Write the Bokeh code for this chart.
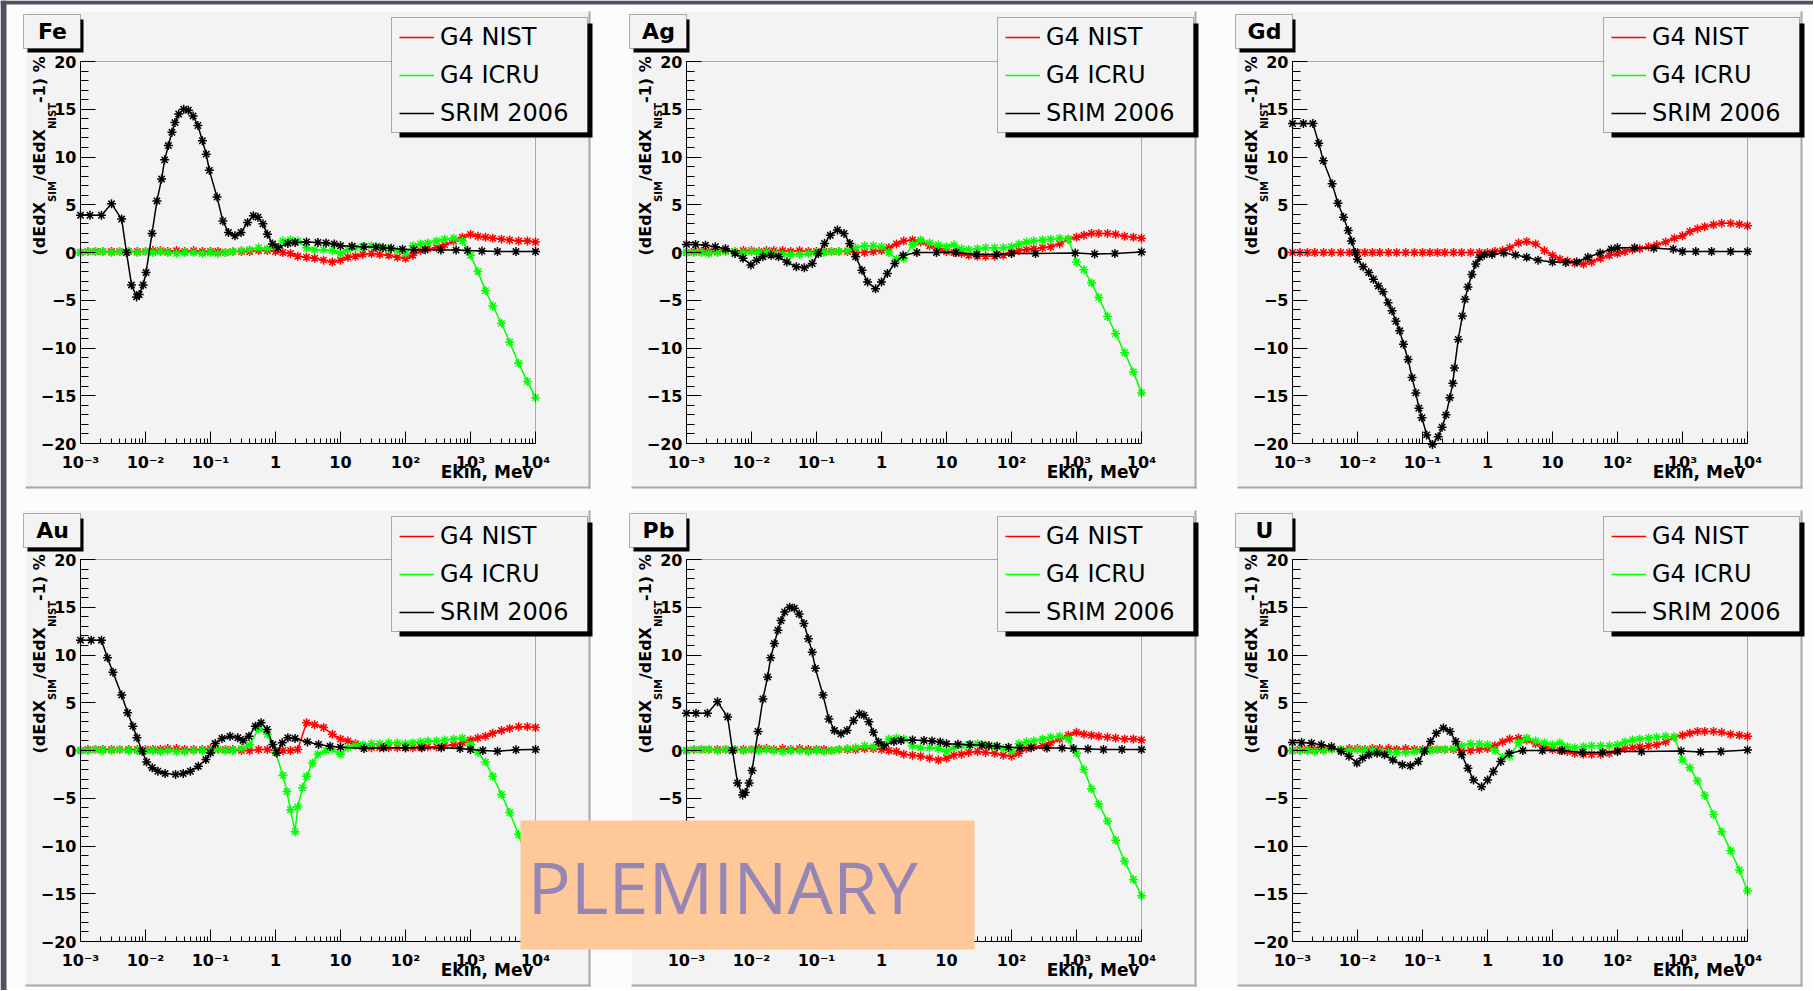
import math
from bokeh.plotting import figure
from bokeh.models import (Range1d, FixedTicker, BoxAnnotation, Label, Legend,
                          LegendItem, ColumnDataSource, LogAxis, LinearAxis, LogScale)
from bokeh.embed import file_html
from bokeh.resources import INLINE

# ---------------------------------------------------------------- data
# common energy grid (MeV) used by the G4 NIST / G4 ICRU series
E = [0.001, 0.0013, 0.0017, 0.0022, 0.003, 0.004, 0.0055, 0.0075,
     0.01, 0.013, 0.017, 0.022, 0.03, 0.04, 0.055, 0.075,
     0.1, 0.13, 0.17, 0.22, 0.3, 0.4, 0.55, 0.75,
     1.0, 1.3, 1.7, 2.2, 3.0, 4.0, 5.5, 7.5,
     10.0, 13.0, 17.0, 22.0, 30.0, 40.0, 55.0, 75.0,
     100.0, 130.0, 170.0, 220.0, 300.0, 400.0, 550.0, 750.0,
     1000.0, 1300.0, 1700.0, 2200.0, 3000.0, 4000.0, 5500.0, 7500.0,
     10000.0]

# ---- Fe
FE_RED = [0.0, 0.1, 0.1, 0.1, 0.1, 0.1, 0.1, 0.1,
          0.1, 0.2, 0.2, 0.1, 0.2, 0.1, 0.2, 0.1,
          0.1, 0.1, 0.0, 0.1, 0.1, 0.1, 0.2, 0.2,
          0.1, 0.0, -0.1, -0.4, -0.5, -0.6, -0.8, -1.0,
          -0.8, -0.5, -0.4, -0.2, -0.1, -0.2, -0.3, -0.5,
          -0.6, -0.3, 0.2, 0.4, 0.5, 0.8, 1.2, 1.6,
          1.9, 1.7, 1.6, 1.5, 1.4, 1.3, 1.2, 1.2,
          1.1]
FE_GREEN = [0.0, 0.1, 0.1, 0.1, 0.0, 0.1, 0.1, 0.0,
            0.1, 0.0, 0.1, 0.0, -0.1, 0.0, 0.0, -0.1,
            0.0, -0.1, 0.0, 0.1, 0.2, 0.3, 0.5, 0.4,
            0.6, 1.2, 1.3, 1.2, 0.5, 0.3, 0.3, 0.2,
            -0.1, 0.3, 0.5, 0.6, 0.7, 0.6, 0.4, 0.2,
            -0.1, 0.7, 0.9, 1.0, 1.2, 1.4, 1.5, 1.2,
            -0.3, -2.0, -4.0, -5.6, -7.4, -9.4, -11.6, -13.5,
            -15.2]
FE_BLACK_X = [0.001, 0.0014, 0.0021, 0.003, 0.0043, 0.0051, 0.0061, 0.0073, 0.008, 0.0092,
              0.0102, 0.0126, 0.015, 0.0177, 0.0197, 0.0225, 0.0255, 0.0284, 0.0324, 0.0387,
              0.0456, 0.054, 0.064, 0.075, 0.086, 0.096, 0.126, 0.155, 0.189, 0.238,
              0.295, 0.372, 0.456, 0.537, 0.64, 0.75, 0.9, 1.1,
              1.55, 2.0, 3.0, 4.5, 6.0, 8.0, 10.0, 15.0, 23.0, 35.0, 45.0,
              60.0, 90.0, 134.0, 200.0, 350.0, 600.0, 900.0, 1500.0, 2600.0, 5000.0, 10000.0]
FE_BLACK_Y = [3.9, 3.9, 3.9, 5.1, 3.5, 0.0, -3.4, -4.65, -4.4, -3.4,
              -2.1, 2.0, 5.4, 7.7, 9.7, 11.2, 12.6, 13.6, 14.5, 15.0,
              14.9, 14.3, 13.3, 11.7, 10.3, 8.6, 5.8, 3.3, 2.1, 1.75,
              2.1, 3.15, 3.85, 3.7, 3.0, 1.9, 0.9, 0.5,
              0.95, 1.05, 1.1, 1.05, 1.0, 0.9, 0.7, 0.65, 0.6, 0.55, 0.5,
              0.45, 0.35, 0.3, 0.3, 0.25, 0.25, 0.2, 0.15, 0.1, 0.1, 0.1]

# ---- Ag
AG_RED = [0.0, 0.1, 0.1, 0.1, 0.1, 0.2, 0.1, 0.2,
          0.2, 0.1, 0.2, 0.2, 0.2, 0.1, 0.2, 0.1,
          0.1, 0.1, 0.1, 0.1, 0.1, 0.0, 0.0, 0.1,
          0.2, 0.5, 0.9, 1.2, 1.3, 1.1, 0.7, 0.4,
          0.1, 0.0, -0.1, -0.3, -0.4, -0.4, -0.4, -0.3,
          0.0, 0.2, 0.3, 0.4, 0.5, 0.6, 0.9, 1.4,
          1.6, 1.8, 2.0, 2.0, 2.0, 1.9, 1.7, 1.6,
          1.5]
AG_GREEN = [0.0, 0.0, 0.0, -0.1, 0.0, 0.1, 0.1, 0.0,
            0.1, 0.0, 0.0, -0.1, -0.2, -0.2, -0.2, -0.1,
            0.0, 0.0, 0.1, 0.1, 0.2, 0.5, 0.7, 0.7,
            0.6, 0.0, -0.7, -0.6, 0.8, 1.3, 1.0, 0.8,
            0.6, 0.8, 0.4, 0.3, 0.4, 0.5, 0.5, 0.5,
            0.6, 0.9, 1.1, 1.2, 1.3, 1.4, 1.5, 1.4,
            -1.0, -1.8, -3.2, -4.7, -6.7, -8.5, -10.5, -12.5,
            -14.7]
AG_BLACK_X = [0.001, 0.00138, 0.00196, 0.00278, 0.00398, 0.0056, 0.0074, 0.0098, 0.012, 0.015,
              0.02, 0.026, 0.035, 0.049, 0.065, 0.086, 0.107, 0.133, 0.163, 0.21,
              0.265, 0.325, 0.4, 0.5, 0.61, 0.81, 1.0, 1.23, 1.6, 2.15,
              3.5, 7.0, 14.0, 29.0, 59.0, 100.0, 234.0, 955.0, 1900.0, 3900.0, 10000.0]
AG_BLACK_Y = [0.85, 0.84, 0.77, 0.6, 0.4, -0.1, -0.6, -1.3, -0.8, -0.45,
              -0.3, -0.45, -1.0, -1.5, -1.6, -1.15, -0.1, 0.95, 1.8, 2.35,
              2.0, 0.95, -0.45, -1.85, -3.1, -3.8, -3.1, -2.2, -1.15, -0.3,
              0.0, 0.0, 0.0, -0.2, -0.2, -0.1, -0.1, -0.05, -0.15, -0.1, 0.05]

# ---- Gd (no G4 ICRU points are drawn; one empty placeholder keeps its legend line)
GD_RED = [0.0, 0.0, 0.0, 0.0, 0.0, 0.0, 0.0, 0.0,
          0.0, 0.0, 0.0, 0.0, 0.0, 0.0, 0.0, 0.0,
          0.0, 0.0, 0.0, 0.0, 0.0, 0.0, 0.0, 0.0,
          0.0, 0.1, 0.2, 0.5, 1.0, 1.15, 0.9, 0.2,
          -0.3, -0.7, -0.9, -1.1, -1.2, -1.0, -0.6, -0.3,
          -0.1, 0.1, 0.3, 0.4, 0.6, 0.8, 1.1, 1.5,
          1.75, 2.2, 2.5, 2.7, 2.9, 3.05, 3.05, 2.95,
          2.8]
GD_GREEN_X = [float("nan")]
GD_GREEN_Y = [float("nan")]
GD_BLACK_X = [0.001, 0.00147, 0.00206, 0.00253, 0.00298, 0.00407, 0.005, 0.0061, 0.0072, 0.0081,
              0.00925, 0.01, 0.0122, 0.0149, 0.0176, 0.021, 0.0246, 0.0295, 0.034, 0.039,
              0.0446, 0.051, 0.06, 0.069, 0.079, 0.088, 0.098, 0.116, 0.142, 0.174,
              0.2, 0.23, 0.263, 0.293, 0.31, 0.355, 0.41, 0.452, 0.5, 0.575,
              0.66, 0.76, 0.89, 1.18, 1.78, 2.7, 4.0, 6.0, 10.0, 16.0,
              23.6, 35.0, 54.0, 80.0, 100.0, 183.0, 362.0, 720.0, 1000.0, 1600.0,
              2800.0, 5500.0, 10000.0]
GD_BLACK_Y = [13.5, 13.5, 13.5, 11.45, 9.6, 7.2, 5.15, 3.7, 2.3, 1.2,
              0.0, -0.7, -1.5, -2.1, -2.8, -3.5, -4.1, -5.25, -6.1, -7.2,
              -8.2, -9.6, -11.2, -13.1, -14.7, -16.3, -17.3, -19.1, -20.1, -19.3,
              -18.3, -17.0, -15.2, -13.7, -12.1, -9.1, -6.65, -4.9, -3.6, -2.3,
              -1.2, -0.5, -0.25, -0.2, -0.05, -0.25, -0.5, -0.8, -1.0, -1.05,
              -1.0, -0.5, -0.05, 0.35, 0.5, 0.5, 0.45, 0.35, 0.1, 0.1,
              0.1, 0.1, 0.1]

# ---- Au
AU_RED = [0.0, 0.1, 0.1, 0.1, 0.1, 0.1, 0.1, 0.1,
          0.1, 0.1, 0.1, 0.2, 0.2, 0.1, 0.1, 0.1,
          0.2, 0.1, 0.1, 0.1, 0.0, 0.0, 0.1, 0.1,
          0.0, 0.0, 0.0, 0.1, 2.9, 2.7, 2.4, 1.7,
          1.2, 1.0, 0.7, 0.4, 0.3, 0.3, 0.3, 0.3,
          0.3, 0.3, 0.4, 0.4, 0.4, 0.5, 0.6, 0.8,
          1.1, 1.3, 1.5, 1.8, 2.1, 2.3, 2.5, 2.5,
          2.4]
AU_GREEN_X = [0.001, 0.0013, 0.0017, 0.0022, 0.003, 0.004, 0.0055, 0.0075,
              0.01, 0.013, 0.017, 0.022, 0.03, 0.04, 0.055, 0.075,
              0.1, 0.13, 0.17, 0.22, 0.3, 0.4, 0.55, 0.75,
              1.0, 1.3, 1.5, 1.7, 2.0, 2.2, 2.6, 3.0, 3.7, 4.5, 6.0, 7.5,
              10.0, 13.0, 17.0, 22.0, 30.0, 40.0, 55.0, 75.0,
              100.0, 130.0, 170.0, 220.0, 300.0, 400.0, 550.0, 750.0,
              1000.0, 1300.0, 1700.0, 2200.0, 3000.0, 4000.0, 5500.0, 7500.0, 10000.0]
AU_GREEN_Y = [0.0, 0.0, 0.1, 0.0, 0.0, 0.1, 0.0, 0.0,
              0.0, 0.0, -0.1, 0.0, -0.1, -0.1, 0.0, 0.0,
              0.0, 0.1, 0.0, 0.0, 0.2, 0.6, 2.3, 1.7,
              -0.2, -2.6, -4.3, -6.2, -8.5, -5.9, -3.9, -2.7, -1.3, -0.4, 0.0, 0.1,
              -0.4, 0.3, 0.5, 0.6, 0.7, 0.7, 0.8, 0.8,
              0.7, 0.8, 0.9, 1.0, 1.0, 1.1, 1.2, 1.3,
              0.6, -0.2, -1.2, -2.7, -4.6, -6.5, -8.8, -11.5, -14.5]
AU_BLACK_X = [0.001, 0.00146, 0.0021, 0.0026, 0.00316, 0.0043, 0.0053, 0.0064, 0.0074, 0.0089,
              0.0104, 0.0127, 0.0155, 0.02, 0.029, 0.038, 0.049, 0.065, 0.085, 0.1,
              0.118, 0.15, 0.2, 0.263, 0.316, 0.39, 0.49, 0.6, 0.74, 0.91,
              1.05, 1.27, 1.55, 2.0, 3.1, 4.6, 6.9, 10.0, 23.0, 46.0,
              100.0, 178.0, 355.0, 690.0, 1000.0, 1550.0, 2600.0, 5000.0, 10000.0]
AU_BLACK_Y = [11.55, 11.55, 11.55, 9.7, 8.2, 5.8, 3.95, 2.55, 1.33, -0.07,
              -1.2, -1.8, -2.17, -2.4, -2.5, -2.4, -2.17, -1.65, -0.95, -0.25,
              0.73, 1.26, 1.5, 1.33, 1.05, 1.5, 2.55, 2.9, 2.2, 0.63,
              -0.25, 0.8, 1.33, 1.26, 0.9, 0.63, 0.45, 0.35, 0.2, 0.28,
              0.28, 0.28, 0.28, 0.2, 0.1, 0.0, -0.07, 0.07, 0.1]

# ---- Pb and U read identical to Fe and Ag in the picture
PB_RED, PB_GREEN, PB_BLACK_X, PB_BLACK_Y = FE_RED, FE_GREEN, FE_BLACK_X, FE_BLACK_Y
U_RED, U_GREEN, U_BLACK_X, U_BLACK_Y = AG_RED, AG_GREEN, AG_BLACK_X, AG_BLACK_Y

ELEMENTS = ["Fe", "Ag", "Gd", "Au", "Pb", "U"]
SERIES_NAMES = ["G4 NIST", "G4 ICRU", "SRIM 2006"]
SERIES_COLORS = ["#ff0000", "#00ff00", "#000000"]
PANEL_DATA = [
    [(E, FE_RED), (E, FE_GREEN), (FE_BLACK_X, FE_BLACK_Y)],
    [(E, AG_RED), (E, AG_GREEN), (AG_BLACK_X, AG_BLACK_Y)],
    [(E, GD_RED), (GD_GREEN_X, GD_GREEN_Y), (GD_BLACK_X, GD_BLACK_Y)],
    [(E, AU_RED), (AU_GREEN_X, AU_GREEN_Y), (AU_BLACK_X, AU_BLACK_Y)],
    [(E, PB_RED), (E, PB_GREEN), (PB_BLACK_X, PB_BLACK_Y)],
    [(E, U_RED), (E, U_GREEN), (U_BLACK_X, U_BLACK_Y)],
]

X_MAJOR = [0.001, 0.01, 0.1, 1.0, 10.0, 100.0, 1000.0, 10000.0]
X_LABELS = ["10\u207b\u00b3", "10\u207b\u00b2", "10\u207b\u00b9", "1", "10",
            "10\u00b2", "10\u00b3", "10\u2074"]
X_MINOR = [m * d for d in X_MAJOR[:-1] for m in range(2, 10)]
Y_MAJOR = [-20, -15, -10, -5, 0, 5, 10, 15, 20]
Y_MINOR = list(range(-20, 21))

# ---------------------------------------------------------------- geometry (page px)
W_TOT, H_TOT = 1813, 990
CANVAS_X = [(24, 590), (630, 1196), (1236, 1802)]
CANVAS_Y = [(10, 488), (509, 986)]
FRAME_X = [(80, 535), (686, 1141), (1292, 1747)]
FRAME_Y = [(61, 443), (559, 941)]

CANVAS = "#f3f3f3"
SLIDE = "#fcfcfc"
DARK = "#50505e"
BOLD = "DejaVu Sans"

p = figure(width=W_TOT, height=H_TOT, x_range=Range1d(0, W_TOT), y_range=Range1d(0, H_TOT),
           x_axis_type=None, y_axis_type=None, min_border=0,
           output_backend="svg", toolbar_location=None,
           background_fill_color=SLIDE, border_fill_color=SLIDE, outline_line_color=None)
p.title.visible = False


def sy(py):
    return H_TOT - py


def box(x0, y0, x1, y1, fill, line=None, level="annotation", alpha=1.0):
    b = BoxAnnotation(left=x0, right=x1, top=sy(y0), bottom=sy(y1),
                      left_units="screen", right_units="screen",
                      top_units="screen", bottom_units="screen",
                      fill_color=fill, fill_alpha=alpha, level=level,
                      line_color=line if line else None, line_width=1)
    p.add_layout(b)


def label(x, y, text, **kw):
    p.add_layout(Label(x=x, y=sy(y), x_units="screen", y_units="screen", text=text, **kw))


# per-panel coordinate systems mapped through Bokeh scales
XR, YR = {}, {}
for idx in range(6):
    r, c = divmod(idx, 3)
    fx0, fx1 = FRAME_X[c]
    fy0, fy1 = FRAME_Y[r]
    dpp = 7.0 / (fx1 - fx0)
    XR[f"x{idx}"] = Range1d(10 ** (-3 - fx0 * dpp), 10 ** (4 + (W_TOT - fx1) * dpp))
    vpp = 40.0 / (fy1 - fy0)
    YR[f"y{idx}"] = Range1d(-20 - (H_TOT - fy1) * vpp, 20 + fy0 * vpp)
p.extra_x_ranges = XR
p.extra_x_scales = {k: LogScale() for k in XR}
p.extra_y_ranges = YR

# slide border
box(0, 0, 6, H_TOT, DARK, level="underlay")
box(0, 0, W_TOT, 4, DARK, level="underlay")

for idx in range(6):
    r, c = divmod(idx, 3)
    fx0, fx1 = FRAME_X[c]
    fy0, fy1 = FRAME_Y[r]
    cx0, cx1 = CANVAS_X[c]
    cy0, cy1 = CANVAS_Y[r]
    xn, yn = f"x{idx}", f"y{idx}"

    # pad with bevel
    box(cx0, cy0, cx1, cy1, CANVAS, level="underlay")
    box(cx0, cy0, cx1, cy0 + 1, "#ffffff", level="underlay")
    box(cx0, cy0, cx0 + 1, cy1, "#ffffff", level="underlay")
    box(cx0 + 1, cy1 - 2, cx1, cy1, "#a8a8a8", level="underlay")
    box(cx1 - 2, cy0 + 1, cx1, cy1, "#a8a8a8", level="underlay")

    # data
    items = []
    for (xs, ys), color, name in zip(PANEL_DATA[idx], SERIES_COLORS, SERIES_NAMES):
        src = ColumnDataSource(dict(x=list(xs), y=list(ys)))
        ln = p.line("x", "y", source=src, line_color=color, line_width=1.5,
                    x_range_name=xn, y_range_name=yn)
        p.scatter("x", "y", source=src, marker="asterisk",
                  size=9, line_color=color, line_width=1.5,
                  x_range_name=xn, y_range_name=yn)
        items.append(LegendItem(label=name, renderers=[ln]))

    # axes
    xa = LogAxis(x_range_name=xn, y_range_name=yn, fixed_location=-20, bounds=(1e-3, 1e4),
                 ticker=FixedTicker(ticks=X_MAJOR, minor_ticks=X_MINOR),
                 major_label_overrides={t: s for t, s in zip(X_MAJOR, X_LABELS)},
                 major_tick_in=12, minor_tick_in=5, major_label_standoff=9)
    ya = LinearAxis(x_range_name=xn, y_range_name=yn, fixed_location=1e-3, bounds=(-20, 20),
                    ticker=FixedTicker(ticks=Y_MAJOR, minor_ticks=Y_MINOR),
                    major_tick_in=15, minor_tick_in=8, major_label_standoff=4)
    for ax in (xa, ya):
        ax.axis_line_color = "black"
        ax.major_tick_line_color = "black"
        ax.minor_tick_line_color = "black"
        ax.major_tick_out = 0
        ax.minor_tick_out = 0
        ax.major_label_text_font = BOLD
        ax.major_label_text_font_style = "bold"
        ax.major_label_text_font_size = "16px"
        ax.major_label_text_color = "black"
    p.add_layout(xa, "below")
    p.add_layout(ya, "left")

    # frame box
    p.add_layout(BoxAnnotation(left=1e-3, right=1e4, bottom=-20, top=20,
                               x_range_name=xn, y_range_name=yn,
                               fill_alpha=0.0, line_color="black", line_width=1))

    # element name box
    box(cx0 + 3, cy0 + 9, fx0 + 3, cy0 + 42, "black")
    box(cx0 - 1, cy0 + 4, fx0, cy0 + 38, CANVAS, line="black")
    label((cx0 + fx0) / 2, cy0 + 21, ELEMENTS[idx], text_align="center",
          text_baseline="middle", text_font=BOLD, text_font_style="bold",
          text_font_size="22px", text_color="black")

    # legend box + shadow
    lx0, lx1 = cx0 + 367, cx0 + 563
    ly0, ly1 = cy0 + 7, cy0 + 122
    box(lx0 + 8, ly0 + 6, lx1 + 5, ly1 + 5, "black")
    box(lx0, ly0, lx1, ly1, CANVAS, line="black")
    item_h, spacing = 28, 10
    leg_h = 3 * item_h + 2 * spacing
    centre = (ly0 + ly1) / 2
    leg = Legend(items=items, location=(cx0 + 375, sy(centre + leg_h / 2)),
                 orientation="vertical", margin=0, padding=0, spacing=spacing,
                 glyph_width=35, glyph_height=item_h, label_height=item_h,
                 label_standoff=6, label_width=120,
                 label_text_font="DejaVu Sans", label_text_font_size="24px",
                 label_text_color="black",
                 background_fill_alpha=0.0, border_line_alpha=0.0)
    p.add_layout(leg)

    # y title with subscripts (rotated pieces), reading upwards
    pieces = [("(dEdX", 16, False, 53.5), ("SIM", 10, True, 20.9),
              ("/dEdX", 16, False, 52.1), ("NIST", 10, True, 26.1),
              ("-1) %", 16, False, 46.7)]
    ypos = fy1 - 188
    for text, size, sub, length in pieces:
        label(fx0 - (28 if sub else 41), ypos, text, angle=math.pi / 2, angle_units="rad",
              text_align="left", text_baseline="alphabetic",
              text_font=BOLD, text_font_style="bold",
              text_font_size=f"{size}px", text_color="black")
        ypos -= length

    # x title
    label(fx1 - 2, fy1 + 28, "Ekin, Mev", text_align="right", text_baseline="alphabetic",
          text_font=BOLD, text_font_style="bold", text_font_size="17px", text_color="black")

# overlay stamp spanning the Au and Pb pads
box(520, 820, 974, 949, "#fec898", level="overlay")
label(527, 885, "PLEMINARY", text_align="left", text_baseline="alphabetic",
      text_font="Open Sans", text_font_size="72px", text_color="#9686b6", level="overlay")

open("out.html", "w").write(file_html(p, INLINE))
